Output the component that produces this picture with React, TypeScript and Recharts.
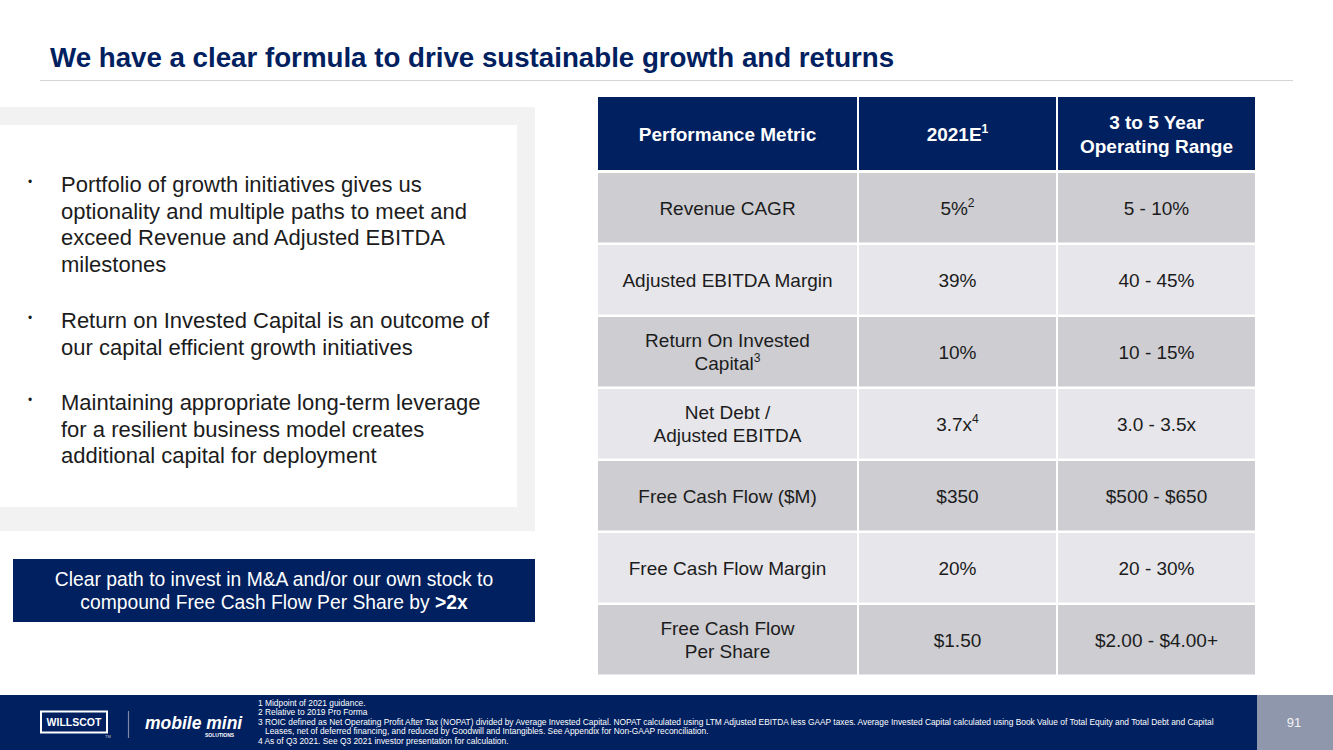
import React from "react";
import { BarChart, Bar, XAxis, YAxis } from "recharts";

const FONT = "'Liberation Sans', Arial, Helvetica, sans-serif";
const NAVY = "#002060";
const ROW_DARK = "#cdcdd2";
const ROW_LIGHT = "#e6e6eb";
const TEXT = "#1c1c1c";

const titleText = "We have a clear formula to drive sustainable growth and returns";

const headers = ["Performance Metric", "2021E", "3 to 5 Year\nOperating Range"];
const headerNotes = ["", "1", ""];

const metrics = [
  "Revenue CAGR",
  "Adjusted EBITDA Margin",
  "Return On Invested\nCapital",
  "Net Debt /\nAdjusted EBITDA",
  "Free Cash Flow ($M)",
  "Free Cash Flow Margin",
  "Free Cash Flow\nPer Share",
];
const metricNotes = ["", "", "3", "", "", "", ""];
const estimates = ["5%", "39%", "10%", "3.7x", "$350", "20%", "$1.50"];
const estimateNotes = ["2", "", "", "4", "", "", ""];
const ranges = ["5 - 10%", "40 - 45%", "10 - 15%", "3.0 - 3.5x", "$500 - $650", "20 - 30%", "$2.00 - $4.00+"];

const bullets = [
  ["Portfolio of growth initiatives gives us", "optionality and multiple paths to meet and", "exceed Revenue and Adjusted EBITDA", "milestones"],
  ["Return on Invested Capital is an outcome of", "our capital efficient growth initiatives"],
  ["Maintaining appropriate long-term leverage", "for a resilient business model creates", "additional capital for deployment"],
];

const calloutLines = ["Clear path to invest in M&A and/or our own stock to", "compound Free Cash Flow Per Share by "];
const calloutBold = ">2x";

const footnotes = [
  "1 Midpoint of 2021 guidance.",
  "2 Relative to 2019 Pro Forma",
  "3 ROIC defined as Net Operating Profit After Tax (NOPAT) divided by Average Invested Capital. NOPAT calculated using LTM Adjusted EBITDA less GAAP taxes. Average Invested Capital calculated using Book Value of Total Equity and Total Debt and Capital",
  "   Leases, net of deferred financing, and reduced by Goodwill and Intangibles. See Appendix for Non-GAAP reconciliation.",
  "4 As of Q3 2021. See Q3 2021 investor presentation for calculation.",
];

const pageNumber = "91";

const rows = metrics.map((m, i) => ({
  metric: m,
  metricNote: metricNotes[i],
  estimate: estimates[i],
  estimateNote: estimateNotes[i],
  range: ranges[i],
}));

// column edges, relative to a 657px-wide table
const COLS: [number, number][] = [
  [0, 259],
  [261, 458],
  [460, 657],
];
const TABLE_W = 657;

function SupText(props: any) {
  const { x, y, text, note, size, weight, fill } = props;
  return (
    <text x={x} y={y} textAnchor="middle" fontFamily={FONT} fontSize={size} fontWeight={weight} fill={fill}>
      <tspan>{text}</tspan>
      {note ? (
        <tspan dy={-size * 0.42} fontSize={size * 0.64}>
          {note}
        </tspan>
      ) : null}
    </text>
  );
}

function MultiLine(props: any) {
  const { cx, cy, text, note, size, weight, fill, lh } = props;
  const lines: string[] = text.split("\n");
  const n = lines.length;
  const base = cy - ((n - 1) * lh) / 2 + size * 0.36;
  return (
    <g>
      {lines.map((ln, i) => (
        <SupText
          key={i}
          x={cx}
          y={base + i * lh}
          text={ln}
          note={i === n - 1 ? note : ""}
          size={size}
          weight={weight}
          fill={fill}
        />
      ))}
    </g>
  );
}

function RowShape(props: any) {
  const { x, y, width, height, index, payload } = props;
  const k = width / TABLE_W;
  const h = height - 2.5;
  const cy = y + h / 2;
  const fill = index % 2 === 0 ? ROW_DARK : ROW_LIGHT;
  const cells = [
    [payload.metric, payload.metricNote],
    [payload.estimate, payload.estimateNote],
    [payload.range, ""],
  ];
  return (
    <g>
      {COLS.map(([a, b], ci) => (
        <g key={ci}>
          <rect x={x + a * k} y={y} width={(b - a) * k} height={h} fill={fill} />
          <MultiLine
            cx={x + ((a + b) / 2) * k}
            cy={cy}
            text={cells[ci][0]}
            note={cells[ci][1]}
            size={19}
            weight="normal"
            fill={TEXT}
            lh={23.5}
          />
        </g>
      ))}
    </g>
  );
}

export default function App() {
  const bulletBaselines = [
    [192, 218.5, 245, 271.5],
    [328, 354.5],
    [410, 436.5, 463],
  ];
  return (
    <div style={{ position: "absolute", left: 0, top: 0, width: 1333, height: 750, background: "#fff", overflow: "hidden" }}>
      <svg width={1333} height={750} style={{ position: "absolute", left: 0, top: 0 }}>
        {/* title */}
        <text x={50} y={67} fontFamily={FONT} fontSize={27.7} fontWeight="bold" fill={NAVY}>
          {titleText}
        </text>
        <line x1={40} x2={1293} y1={80.5} y2={80.5} stroke="#d4d4d4" strokeWidth={1} />

        {/* left panel */}
        <rect x={0} y={107} width={535} height={424} fill="#f2f2f2" />
        <rect x={0} y={125} width={517} height={382} fill="#ffffff" />
        {bullets.map((para, pi) => (
          <g key={pi}>
            <text x={28} y={bulletBaselines[pi][0] - 6} fontFamily={FONT} fontSize={12} fill={TEXT}>
              •
            </text>
            {para.map((ln, li) => (
              <text key={li} x={61} y={bulletBaselines[pi][li]} fontFamily={FONT} fontSize={22} fill={TEXT}>
                {ln}
              </text>
            ))}
          </g>
        ))}

        {/* callout */}
        <rect x={13} y={559} width={522} height={63} fill={NAVY} />
        <text x={274} y={586} textAnchor="middle" fontFamily={FONT} fontSize={19.3} fill="#ffffff">
          {calloutLines[0]}
        </text>
        <text x={274} y={609} textAnchor="middle" fontFamily={FONT} fontSize={19.3} fill="#ffffff">
          <tspan>{calloutLines[1]}</tspan>
          <tspan fontWeight="bold">{calloutBold}</tspan>
        </text>

        {/* table header */}
        {COLS.map(([a, b], ci) => (
          <g key={ci}>
            <rect x={598 + a} y={97} width={b - a} height={73} fill={NAVY} />
            <MultiLine
              cx={598 + (a + b) / 2}
              cy={134}
              text={headers[ci]}
              note={headerNotes[ci]}
              size={19}
              weight="bold"
              fill="#ffffff"
              lh={24}
            />
          </g>
        ))}

        {/* footer */}
        <rect x={0} y={695} width={1257} height={55} fill={NAVY} />
        <rect x={1257} y={695} width={76} height={55} fill="#8e97ab" />
        <text x={1294} y={727} textAnchor="middle" fontFamily={FONT} fontSize={13} fill="#f2f2f6">
          {pageNumber}
        </text>
        {/* logos */}
        <rect x={41} y={711.5} width={66} height={21} fill="none" stroke="#ffffff" strokeWidth={2} />
        <text x={74} y={726} textAnchor="middle" fontFamily={FONT} fontSize={10.5} fontWeight="bold" fill="#ffffff">
          WILLSCOT
        </text>
        <text x={105} y={738} fontFamily={FONT} fontSize={4} fill="#c8c8d8">
          TM
        </text>
        <line x1={128.5} x2={128.5} y1={711} y2={738} stroke="#7f88a3" strokeWidth={1.2} />
        <text x={145} y={729} fontFamily={FONT} fontSize={17.5} fontWeight="bold" fontStyle="italic" fill="#ffffff">
          mobile mini
        </text>
        <text x={205} y={737} fontFamily={FONT} fontSize={5} fontWeight="bold" fill="#ffffff">
          SOLUTIONS
        </text>
        {footnotes.map((f, i) => (
          <text
            key={i}
            x={258}
            y={[706, 715, 724.5, 734, 743.5][i]}
            fontFamily={FONT}
            fontSize={8.4}
            fill="#ffffff"
            style={{ whiteSpace: "pre" }}
          >
            {f}
          </text>
        ))}
      </svg>

      <div style={{ position: "absolute", left: 598, top: 173 }}>
        <BarChart
          width={657}
          height={504}
          data={rows}
          layout="vertical"
          margin={{ top: 0, right: 0, bottom: 0, left: 0 }}
          barCategoryGap={0}
        >
          <XAxis type="number" domain={[0, 1]} hide />
          <YAxis type="category" dataKey="metric" hide width={0} />
          <Bar dataKey={() => 1} isAnimationActive={false} shape={(p: any) => <RowShape {...p} />} />
        </BarChart>
      </div>
    </div>
  );
}
